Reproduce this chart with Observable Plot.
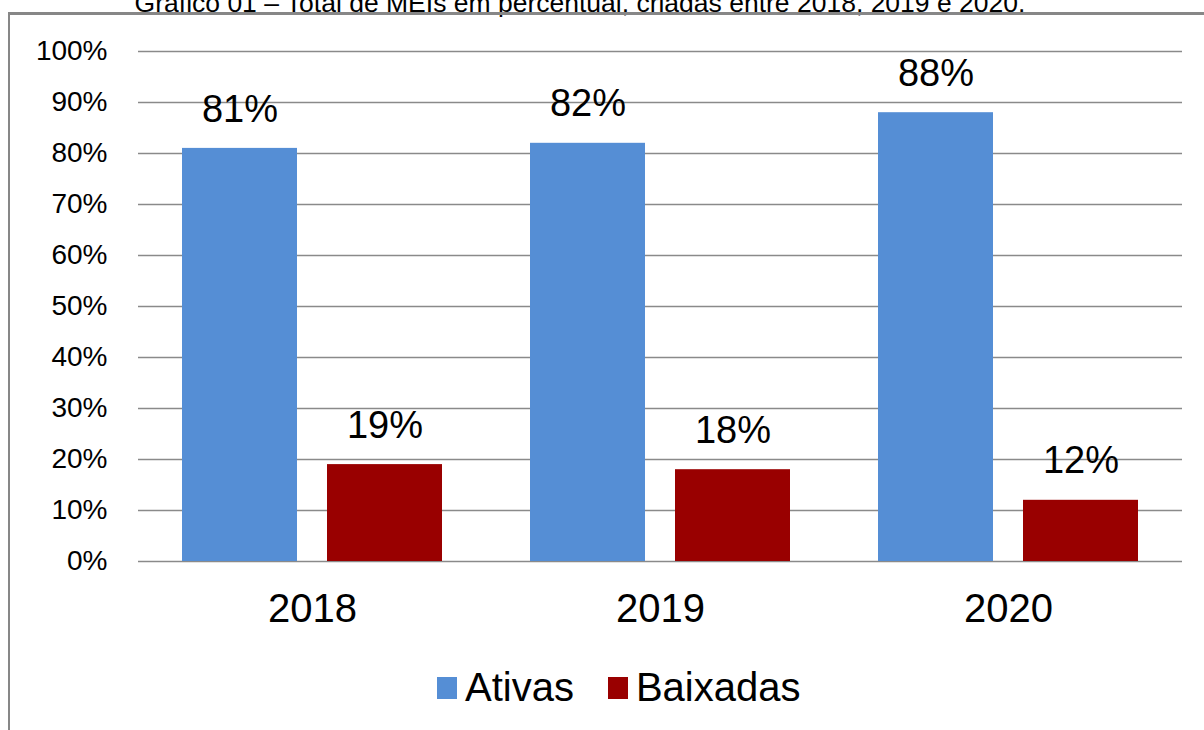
<!DOCTYPE html>
<html>
<head>
<meta charset="utf-8">
<script src="https://cdn.jsdelivr.net/npm/d3@7"></script>
<script src="https://cdn.jsdelivr.net/npm/@observablehq/plot@0.6"></script>
<style>
  html, body { margin: 0; padding: 0; background: #fff; }
  body { width: 1204px; height: 730px; position: relative; overflow: hidden; font-family: "Liberation Sans", Arial, sans-serif; }
  #title { position: absolute; left: 0; width: 1160px; top: -12px; text-align: center; font-family: "Liberation Sans", Arial, sans-serif; font-size: 26.5px; color: #000; white-space: nowrap; }
  #frame { position: absolute; left: 8px; top: 12px; width: 1400px; height: 1000px; border-top: 3px solid #878787; border-left: 2px solid #878787; z-index: 5; pointer-events: none; }
  #chart { position: absolute; left: 0; top: 0; }
  #legend { position: absolute; top: 665px; left: 437px; display: flex; align-items: center; font-size: 40px; color: #000; }
  .sw { width: 20px; height: 22px; display: inline-block; box-sizing: border-box; }
  .item { display: flex; align-items: center; }
</style>
</head>
<body>
<div id="title">Gráfico 01 – Total de MEIs em percentual, criadas entre 2018, 2019 e 2020.</div>
<div id="chart"></div>
<div id="frame"></div>
<div id="legend"></div>
<script>
const years = ["2018", "2019", "2020"];
const seriesNames = ["Ativas", "Baixadas"];
const ativas = [81, 82, 88];
const baixadas = [19, 18, 12];
const seriesColors = ["#558ED5", "#990000"];
const yTicks = [0, 10, 20, 30, 40, 50, 60, 70, 80, 90, 100];

const data = [];
years.forEach((y, i) => {
  data.push({year: y, series: seriesNames[0], value: ativas[i]});
  data.push({year: y, series: seriesNames[1], value: baixadas[i]});
});

const chart = Plot.plot({
  width: 1204,
  height: 650,
  marginTop: 51,
  marginBottom: 89,
  marginLeft: 138,
  marginRight: 22,
  style: {background: "transparent", fontFamily: "'Liberation Sans', Arial, sans-serif", color: "#000"},
  fx: {domain: years, padding: 0, label: null},
  x: {domain: seriesNames, paddingInner: 0.207, paddingOuter: 0.303, axis: null},
  y: {domain: [0, 100], label: null},
  color: {domain: seriesNames, range: seriesColors},
  marks: [
    Plot.gridY(yTicks, {stroke: "#8a8a8a", strokeOpacity: 1, strokeWidth: 1.5}),
    Plot.axisY({ticks: yTicks, tickFormat: d => d + "%", tickSize: 0, tickPadding: 31, fontSize: 28, label: null, fill: "#000"}),
    Plot.axisFx({anchor: "bottom", tickSize: 0, tickPadding: 32, fontSize: 40, label: null, fill: "#000"}),
    Plot.barY(data, {fx: "year", x: "series", y: "value", fill: "series"}),
    Plot.text(data, {fx: "year", x: "series", y: "value", text: d => d.value + "%", dy: -39, fontSize: 38, fill: "#000"})
  ]
});
document.getElementById("chart").appendChild(chart);

const legend = document.getElementById("legend");
seriesNames.forEach((name, i) => {
  const item = document.createElement("div");
  item.className = "item";
  item.style.marginRight = i === 0 ? "34px" : "0";
  const sw = document.createElement("span");
  sw.className = "sw";
  sw.style.background = seriesColors[i];
  sw.style.marginRight = "8px";
  const t = document.createElement("span");
  t.textContent = name;
  item.appendChild(sw);
  item.appendChild(t);
  legend.appendChild(item);
});
</script>
</body>
</html>
